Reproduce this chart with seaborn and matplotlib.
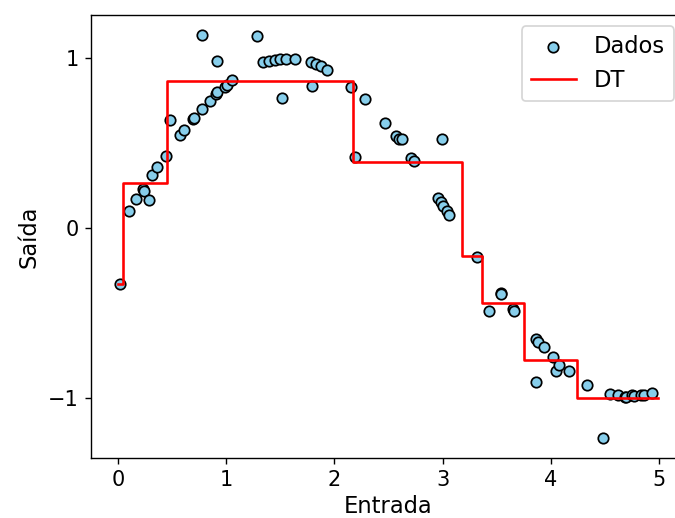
import seaborn as sns
import matplotlib.pyplot as plt
import numpy as np

# data points
entrada = [0.025, 0.102, 0.169, 0.231, 0.239, 0.286, 0.316, 0.363, 0.447, 0.484,
           0.570, 0.610, 0.699, 0.702, 0.779, 0.778, 0.856, 0.908, 0.920, 0.917,
           0.991, 1.005, 1.056, 1.287, 1.338, 1.393, 1.448, 1.502, 1.513, 1.557,
           1.632, 1.786, 1.795, 1.831, 1.876, 1.935, 2.154, 2.191, 2.281, 2.465,
           2.569, 2.600, 2.625, 2.708, 2.738, 2.953, 2.985, 2.994, 3.006, 3.037,
           3.055, 3.314, 3.424, 3.538, 3.542, 3.647, 3.655, 3.857, 3.857, 3.878,
           3.930, 4.013, 4.045, 4.075, 4.161, 4.333, 4.477, 4.545, 4.616, 4.682,
           4.694, 4.749, 4.761, 4.832, 4.854, 4.933]
saida = [-0.333, 0.098, 0.169, 0.228, 0.220, 0.163, 0.314, 0.361, 0.424, 0.635,
         0.545, 0.575, 0.643, 0.648, 0.698, 1.137, 0.747, 0.786, 0.800, 0.984,
         0.831, 0.840, 0.871, 1.129, 0.976, 0.982, 0.988, 0.994, 0.763, 0.996,
         0.996, 0.976, 0.835, 0.963, 0.953, 0.928, 0.829, 0.419, 0.757, 0.616,
         0.541, 0.522, 0.522, 0.414, 0.394, 0.178, 0.155, 0.524, 0.129, 0.100,
         0.076, -0.171, -0.488, -0.384, -0.390, -0.478, -0.492, -0.655, -0.910, -0.675,
         -0.704, -0.763, -0.841, -0.806, -0.845, -0.924, -1.239, -0.982, -0.988, -0.995,
         -0.998, -0.988, -0.990, -0.988, -0.988, -0.975]

# decision tree (depth 3) splits and leaf values
limites = [0.0, 0.046, 0.456, 2.176, 3.179, 3.363, 3.754, 4.240, 4.99]
folhas = [-0.333, 0.267, 0.865, 0.390, -0.165, -0.443, -0.778, -1.002]

plt.figure(figsize=(5.4, 4.144), dpi=125)
ax = plt.gca()

sns.scatterplot(x=entrada, y=saida, color="skyblue", edgecolor="black",
                linewidth=1, s=36, label="Dados", ax=ax)
sns.lineplot(x=limites, y=folhas + [folhas[-1]], color="red", linewidth=1.5,
             drawstyle="steps-post", label="DT", ax=ax)

# the original image is cut off just past the legend, so the right spine is outside
ax.set_xlim(-0.2495, 5.2395)
ax.set_ylim(-1.358, 1.256)
ax.set_xticks([0, 1, 2, 3, 4, 5])
ax.set_yticks([-1, 0, 1])
ax.tick_params(labelsize=12)
ax.set_xlabel("Entrada", fontsize=13, labelpad=2.5)
ax.set_ylabel("Saída", fontsize=13)
ax.legend(loc="upper right", fontsize=13)

plt.subplots_adjust(left=0.1344, right=1.0154, top=0.9716, bottom=0.1153)
plt.savefig("out.png", dpi=125)
